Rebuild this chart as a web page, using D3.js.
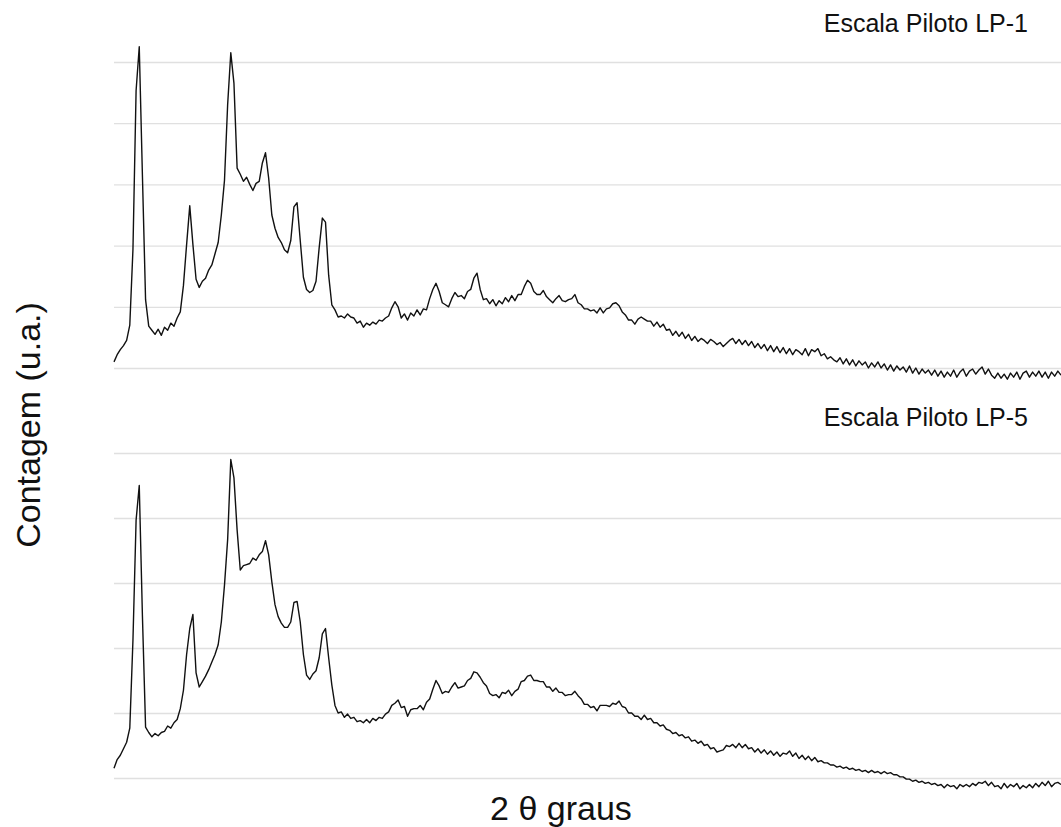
<!DOCTYPE html>
<meta charset="utf-8">

<style>
    body { margin: 0; background: #fff; }
    .grid .tick line { stroke: #e0e0e0; stroke-width: 1.3; }
    .grid .domain { visibility: hidden; }
    text { font-family: "Liberation Sans", Arial, sans-serif; fill: #111; }
</style>

<script src="https://d3js.org/d3.v7.min.js"></script>

<div id="svg-holder"></div>

<script>
    var width = 1061;
    var height = 827;

    // scan: 2θ start and step (degrees), one count per step
    var twoThetaStart = 5;
    var twoThetaStep = 0.25;
    var twoThetaEnd = 80;

    // gridline values (u.a.), no labels drawn
    var gridTicks = [100, 160, 220, 280, 340, 400];

    var sampleNames = ["Escala Piloto LP-1", "Escala Piloto LP-5"];

    var countsLP1 = [
        106,113,118,122,127,142,216,372,415,289,
        167,141,137,133,138,132,140,137,144,141,
        149,155,181,221,259,221,187,179,185,188,
        196,201,212,223,250,284,358,409,379,296,
        290,283,287,280,274,281,283,301,311,286,
        250,237,228,223,216,213,225,258,262,225,
        189,177,174,176,185,218,247,243,191,162,
        157,150,151,149,153,150,149,144,146,140,
        144,142,145,143,147,146,149,151,159,165,
        160,149,153,147,154,151,157,152,158,157,
        168,177,183,175,164,162,160,168,174,170,
        171,168,175,177,188,193,177,167,168,163,
        167,161,166,163,169,165,171,166,172,172,
        180,186,183,175,172,172,176,170,167,164,
        168,171,166,165,167,168,172,164,162,158,
        158,156,157,154,159,154,158,159,163,164,
        161,155,152,147,147,143,148,150,148,146,
        146,141,145,140,143,137,138,132,136,131,
        135,129,133,127,131,126,129,127,124,128,
        126,123,125,121,124,127,129,124,128,123,
        127,122,126,120,124,119,123,117,122,116,
        121,115,120,114,119,113,118,116,113,119,
        112,118,116,119,112,114,109,111,108,106,
        110,104,109,103,108,102,107,103,106,100,
        105,101,106,100,104,98,103,97,102,98,
        101,96,102,95,100,94,99,95,98,93,
        98,92,97,91,96,92,98,91,96,99,
        92,97,99,94,98,101,94,99,93,90,
        95,90,94,89,95,91,96,89,95,97,
        91,96,92,97,91,96,90,96,92,97,
        93
    ];

    var countsLP5 = [
        109,117,121,127,133,146,227,338,370,250,
        147,142,138,141,139,142,143,148,146,151,
        154,164,181,214,238,251,197,184,189,194,
        200,207,214,223,244,278,320,394,377,329,
        292,296,297,298,303,301,306,309,319,306,
        281,260,249,243,239,239,244,262,263,244,
        214,195,191,196,199,211,233,238,211,186,
        167,160,161,156,159,155,156,152,153,151,
        154,151,155,153,156,155,159,161,167,169,
        172,165,166,157,163,164,164,167,163,170,
        173,182,190,185,178,180,179,184,188,183,
        184,185,190,192,198,197,193,188,185,178,
        176,177,174,179,178,181,176,180,182,189,
        190,194,195,190,190,189,189,184,184,180,
        183,179,179,176,177,177,180,176,173,168,
        168,165,166,162,167,167,167,166,169,168,
        171,166,165,160,160,157,157,154,158,154,
        155,151,151,148,149,145,144,141,142,139,
        140,137,138,134,135,132,134,130,131,127,
        128,124,125,126,130,129,131,128,132,128,
        131,127,128,124,127,123,126,122,125,121,
        124,120,123,122,125,120,123,118,121,117,
        120,116,119,115,116,114,114,112,112,110,
        111,109,110,108,109,107,108,106,107,105,
        107,105,106,104,106,104,105,103,103,101,
        101,99,99,97,98,96,97,95,96,94,
        95,93,94,91,94,92,93,90,94,92,
        94,92,95,93,96,95,97,93,96,92,
        93,90,95,91,94,92,95,90,93,91,
        94,91,95,92,96,93,97,92,95,96,
        94
    ];

    var seriesCounts = [countsLP1, countsLP5];

    // layout of the two stacked panels
    var plotLeft = 114, plotRight = 1061;
    var panels = [
        { bottom: 368, top: 62,  titleY: 32 },
        { bottom: 778, top: 453, titleY: 426 }
    ];

    var svg = d3.select("#svg-holder").append("svg")
        .attr("width", width).attr("height", height);

    var x = d3.scaleLinear()
        .domain([twoThetaStart, twoThetaEnd])
        .range([plotLeft, plotRight]);

    panels.forEach(function(p, k) {
        var y = d3.scaleLinear()
            .domain([gridTicks[0], gridTicks[gridTicks.length - 1]])
            .range([p.bottom, p.top]);

        svg.append("g")
            .attr("class", "grid")
            .attr("transform", "translate(" + plotLeft + ",0)")
            .call(d3.axisLeft(y).tickValues(gridTicks)
                .tickSize(-(plotRight - plotLeft)).tickFormat(""));

        var line = d3.line()
            .x(function(d, i) { return x(twoThetaStart + i * twoThetaStep); })
            .y(function(d) { return y(d); });

        svg.append("path")
            .datum(seriesCounts[k])
            .attr("fill", "none")
            .attr("stroke", "#111")
            .attr("stroke-width", 1.4)
            .attr("stroke-linejoin", "round")
            .attr("d", line);

        svg.append("text")
            .attr("x", 1028).attr("y", p.titleY)
            .attr("text-anchor", "end")
            .attr("font-size", "25px")
            .text(sampleNames[k]);
    });

    // axis titles
    svg.append("text")
        .attr("transform", "translate(40,425) rotate(-90)")
        .attr("text-anchor", "middle")
        .attr("font-size", "34px")
        .text("Contagem (u.a.)");

    svg.append("text")
        .attr("x", 561).attr("y", 820)
        .attr("text-anchor", "middle")
        .attr("font-size", "34px")
        .text("2 θ graus");
</script>
